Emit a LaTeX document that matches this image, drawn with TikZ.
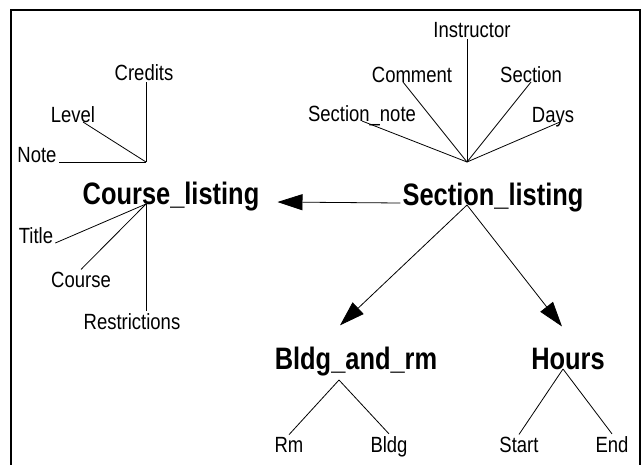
\documentclass[tikz,border=0pt]{standalone}
\usepackage{fontspec}
\usetikzlibrary{arrows.meta}
\newfontfamily\attrfont{Liberation Sans}[FakeStretch=0.84]
\newfontfamily\entfont{Liberation Sans}[FakeStretch=0.82]
\begin{document}
\begin{tikzpicture}[x=1pt,y=-1pt,
  attr/.style={inner sep=2pt,anchor=base,font=\attrfont\fontsize{22}{26}\selectfont},
  entity/.style={inner sep=2pt,anchor=base,font=\entfont\bfseries\fontsize{31}{36}\selectfont},
  link/.style={line width=0.8pt},
  rel/.style={line width=0.8pt,-{Triangle[length=25pt,width=16pt]}}]
\useasboundingbox (0,0) rectangle (642,464);
\draw [line width=2pt] (11,470) -- (11,10) -- (640,10) -- (640,470);
\coordinate (cl_top) at (146,162);
\coordinate (cl_bot) at (146,204);
\coordinate (sl_top) at (467,162);
\coordinate (sl_bot) at (467,205);
\coordinate (br_hub) at (339,380);
\coordinate (hr_hub) at (563,369);
\node (course_listing) [entity] at (171,204) {Course\_listing};
\node (section_listing) [entity] at (493,205) {Section\_listing};
\node (bldg_and_rm) [entity] at (356,369) {Bldg\_and\_rm};
\node (hours) [entity] at (568,369) {Hours};
\node (credits) [attr] at (144,80) {Credits};
\node (level) [attr] at (73,122) {Level};
\node (note) [attr] at (37,162) {Note};
\node (title) [attr] at (36,243) {Title};
\node (course) [attr] at (81,287) {Course};
\node (restrictions) [attr] at (132,329) {Restrictions};
\node (instructor) [attr] at (472,37) {Instructor};
\node (comment) [attr] at (412,82) {Comment};
\node (section) [attr] at (531,82) {Section};
\node (section_note) [attr] at (362,121) {Section\_note};
\node (days) [attr] at (553,122) {Days};
\node (rm) [attr] at (289,452) {Rm};
\node (bldg) [attr] at (389,452) {Bldg};
\node (start) [attr] at (519,452) {Start};
\node (endtime) [attr] at (612,452) {End};
\draw [link] (cl_top) -- (cl_top |- credits.south);
\draw [link] (cl_top) -- ([xshift=10pt]level.base);
\draw [link] (cl_top) -- (note.base east);
\draw [link] (cl_bot) -- (title.base east);
\draw [link] (cl_bot) -- (course.north);
\draw [link] (cl_bot) -- (cl_bot |- restrictions.north);
\draw [link] (sl_top) -- (sl_top |- instructor.south);
\draw [link] (sl_top) -- ([xshift=-9pt]comment.base);
\draw [link] (sl_top) -- (section.base);
\draw [link] (sl_top) -- (section_note.base);
\draw [link] (sl_top) -- ([xshift=7pt]days.base);
\draw [rel] ([yshift=2pt]section_listing.base west) -- ([xshift=16pt,yshift=2pt]course_listing.base east);
\draw [rel] (sl_bot) -- ([xshift=-16pt,yshift=19pt]bldg_and_rm.north);
\draw [rel] (sl_bot) -- ([xshift=-6pt,yshift=19pt]hours.north);
\draw [link] (br_hub) -- (rm.north);
\draw [link] (br_hub) -- (bldg.north);
\draw [link] (hr_hub) -- (start.north);
\draw [link] (hr_hub) -- (endtime.north);
\end{tikzpicture}
\end{document}
